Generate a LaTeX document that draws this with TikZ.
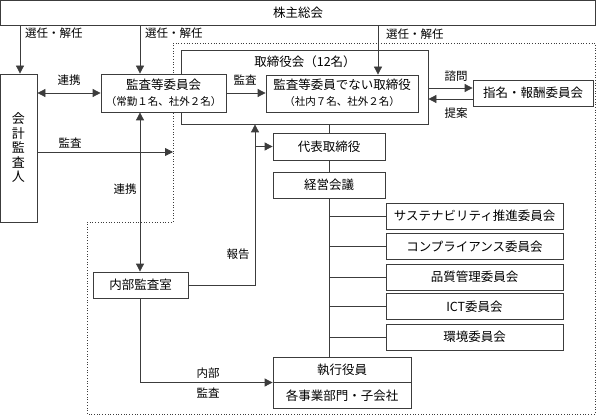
\documentclass[tikz,border=0pt]{standalone}
\usepackage{fontspec}
\newfontfamily\jp{Noto Sans CJK JP}
\usetikzlibrary{arrows.meta,calc}
\definecolor{ln}{RGB}{60,60,60}
\begin{document}
\begin{tikzpicture}[x=1pt,y=-1pt,
  every node/.style={font=\jp\fontsize{12.5}{14}\selectfont, text=black},
  box/.style={draw=ln, fill=white, line width=0.8pt, rectangle, inner sep=0pt, align=center},
  lbl/.style={font=\jp\fontsize{11.5}{13}\selectfont, inner sep=0pt},
  ln/.style={draw=ln, line width=0.8pt},
  arr/.style={ln, -{Triangle[length=8pt,width=8pt]}},
  darr/.style={ln, {Triangle[length=8pt,width=8pt]}-{Triangle[length=8pt,width=8pt]}},
  dot/.style={draw=ln, line width=0.7pt, dotted}
]
\useasboundingbox (0,0) rectangle (597,417);
% dotted region
\draw[dot] (173,43) -- (595,43) -- (595,414) -- (87,414) -- (87,222) -- (173,222) -- cycle;

% nodes
\node[box, minimum width=595pt, minimum height=25pt] (sh) at (298,12.5) {株主総会};
\node[box, minimum width=37pt, minimum height=148pt, font=\jp\fontsize{13}{14.5}\selectfont] (kaikei) at (18.5,148) {会\\計\\監\\査\\人};
\node[box, minimum width=247pt, minimum height=74pt] (tori) at (304.5,87) {};
\node at (305,62) {取締役会（12名）};
\node[box, minimum width=125pt, minimum height=38pt] (kansa) at (163.5,93) {};
\node at (163.5,85) {監査等委員会};
\node[font=\jp\fontsize{10.5}{12}\selectfont] at (163.5,102) {（常勤１名、社外２名）};
\node[box, minimum width=152pt, minimum height=37pt] (nai) at (342,93.5) {};
\node at (342,85) {監査等委員でない取締役};
\node[font=\jp\fontsize{10.5}{12}\selectfont] at (342,102) {（社内７名、社外２名）};
\node[box, minimum width=120pt, minimum height=26pt] (shimei) at (533,93) {指名・報酬委員会};
\node[box, minimum width=112pt, minimum height=27pt] (daihyo) at (329,146.5) {代表取締役};
\node[box, minimum width=112pt, minimum height=26pt] (keiei) at (329,185) {経営会議};
\node[box, minimum width=177pt, minimum height=26pt] (c1) at (474.5,216) {サステナビリティ推進委員会};
\node[box, minimum width=177pt, minimum height=26pt] (c2) at (474.5,246.5) {コンプライアンス委員会};
\node[box, minimum width=177pt, minimum height=26pt] (c3) at (474.5,277) {品質管理委員会};
\node[box, minimum width=177pt, minimum height=26pt] (c4) at (474.5,306.5) {ICT委員会};
\node[box, minimum width=177pt, minimum height=26pt] (c5) at (474.5,337) {環境委員会};
\node[box, minimum width=138pt, minimum height=51pt] (shikko) at (342,382.5) {};
\node at (342,370) {執行役員};
\node at (342,395.5) {各事業部門・子会社};
\draw[ln] (shikko.west) -- (shikko.east);
\node[box, minimum width=95pt, minimum height=26pt] (naibu) at (140.5,285) {内部監査室};

% helper coordinates
\coordinate (x20) at (20,0);
\coordinate (x140) at (140,0);
\coordinate (x378) at (378,0);
\coordinate (x255) at (255,0);
\coordinate (x329) at (329,0);
\coordinate (y88) at (0,88);
\coordinate (y99) at (0,99);
\coordinate (y152) at (0,152);
\coordinate (dl) at (173,152);
\coordinate (rp) at (255,285);
\coordinate (ip) at (140,382.5);

% connectors
\draw[arr] (sh.south -| x20) -- (kaikei.north -| x20);
\draw[arr] (sh.south -| x140) -- (kansa.north -| x140);
\draw[arr] (sh.south -| x378) -- (nai.north -| x378);
\node[lbl, anchor=west] at (25,33) {選任・解任};
\node[lbl, anchor=west] at (145,33) {選任・解任};
\node[lbl, anchor=west] at (386,34) {選任・解任};

\draw[darr] (kaikei.east |- kansa.west) -- (kansa.west);
\node[lbl] at (69,80) {連携};
\draw[arr] (kansa.east) -- (nai.west |- kansa.east);
\node[lbl] at (245,80) {監査};

\draw[arr] (tori.east |- y88) -- (shimei.west |- y88);
\draw[arr] (shimei.west |- y99) -- (tori.east |- y99);
\node[lbl] at (456,76) {諮問};
\node[lbl] at (456,113) {提案};

\draw[ln] (tori.south -| x329) -- (daihyo.north);
\draw[ln] (daihyo.south) -- (keiei.north);
\draw[ln] (keiei.south) -- (shikko.north -| keiei.south);
\foreach \c in {c1,c2,c3,c4,c5}
  \draw[ln] (keiei.south |- \c.west) -- (\c.west);

\draw[arr] (kaikei.east |- y152) -- (dl);
\node[lbl] at (70,143) {監査};

\draw[darr] (kansa.south -| x140) -- (naibu.north -| x140);
\node[lbl] at (125,189) {連携};

\draw[arr] (naibu.east) -- (rp) -- (tori.south -| x255);
\draw[arr] (daihyo.west -| x255) -- (daihyo.west);
\node[lbl] at (238,254) {報告};

\draw[arr] (naibu.south -| x140) -- (ip) -- (shikko.west);
\node[lbl] at (208,373) {内部};
\node[lbl] at (208,393) {監査};
\end{tikzpicture}
\end{document}
